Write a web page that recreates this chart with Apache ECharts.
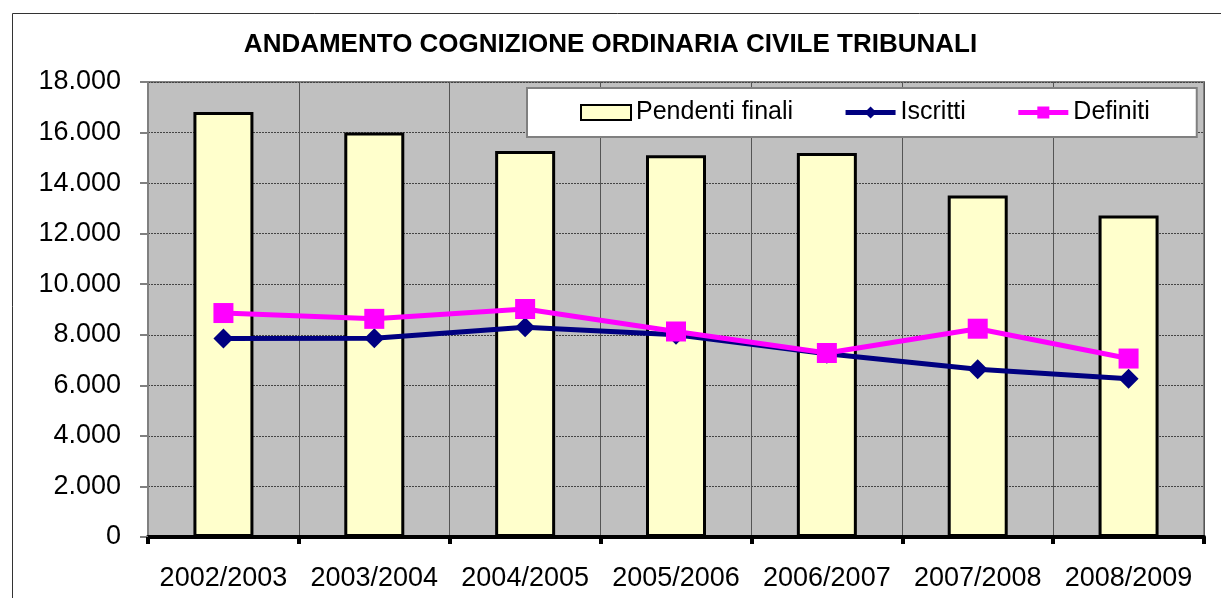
<!DOCTYPE html>
<html>
<head>
<meta charset="utf-8">
<script src="https://cdn.jsdelivr.net/npm/echarts@6/dist/echarts.min.js"></script>
<style>
  html, body { margin: 0; padding: 0; background: #fff; }
  #chart { width: 1221px; height: 598px; }
</style>
</head>
<body>
<div id="chart"></div>
<script>
var anni = ['2002/2003', '2003/2004', '2004/2005', '2005/2006', '2006/2007', '2007/2008', '2008/2009'];
var pendentiFinali = [16810, 16000, 15270, 15100, 15190, 13510, 12720];
var iscritti = [7850, 7860, 8300, 8000, 7250, 6640, 6260];
var definiti = [8860, 8630, 9020, 8130, 7280, 8240, 7060];
var yTicks = { min: 0, max: 18000, step: 2000 };

var myChart = echarts.init(document.getElementById('chart'));
var font = '"Liberation Sans", Arial, sans-serif';

var option = {
    backgroundColor: '#fff',
    animation: false,
    textStyle: { fontFamily: font },
    title: {
        text: 'ANDAMENTO COGNIZIONE ORDINARIA CIVILE TRIBUNALI',
        left: 'center',
        top: 27,
        textStyle: { fontSize: 26, fontWeight: 'bold', color: '#000', fontFamily: font }
    },
    graphic: [{
        type: 'rect',
        left: 10, top: 11,
        shape: { width: 1260, height: 640 },
        style: { fill: 'none', stroke: '#333', lineWidth: 1 },
        silent: true
    }],
    legend: {
        left: 527,
        top: 88,
        padding: [12, 47, 12, 53],
        itemGap: 50,
        itemWidth: 50,
        itemHeight: 15,
        backgroundColor: '#fff',
        borderColor: '#808080',
        borderWidth: 2,
        textStyle: { fontSize: 25, color: '#000', fontFamily: font },
        data: [
            { name: 'Pendenti finali', icon: 'rect' },
            { name: 'Iscritti', lineStyle: { width: 5 } },
            { name: 'Definiti', lineStyle: { width: 5 } }
        ]
    },
    grid: {
        left: 148,
        right: 17,
        top: 82,
        bottom: 61,
        show: true,
        backgroundColor: '#C0C0C0',
        borderColor: '#808080',
        borderWidth: 2
    },
    xAxis: {
        type: 'category',
        data: anni,
        boundaryGap: true,
        axisLine: { lineStyle: { color: '#000', width: 4 } },
        axisTick: { show: true, interval: 0, length: 7, lineStyle: { color: '#000', width: 4 } },
        axisLabel: { interval: 0, fontSize: 27, color: '#000', margin: 28, fontFamily: font },
        splitLine: { show: true, interval: 0, lineStyle: { color: '#555', width: 1 } }
    },
    yAxis: {
        type: 'value',
        min: yTicks.min,
        max: yTicks.max,
        interval: yTicks.step,
        axisLine: { show: true, lineStyle: { color: '#808080', width: 2 } },
        axisTick: { show: true, length: 8, lineStyle: { color: '#808080', width: 2 } },
        axisLabel: {
            fontSize: 27, color: '#000', margin: 27, fontFamily: font,
            formatter: function (v) {
                return String(v).replace(/\B(?=(\d{3})+(?!\d))/g, '.');
            }
        },
        splitLine: { show: true, lineStyle: { color: '#444', width: 1, type: [2, 1] } }
    },
    series: [
        {
            name: 'Pendenti finali',
            type: 'bar',
            barWidth: 60,
            data: pendentiFinali,
            itemStyle: { color: '#FFFFCC', borderColor: '#000', borderWidth: 3 }
        },
        {
            name: 'Iscritti',
            type: 'line',
            data: iscritti,
            symbol: 'diamond',
            symbolSize: 20,
            lineStyle: { color: '#000080', width: 5 },
            itemStyle: { color: '#000080' }
        },
        {
            name: 'Definiti',
            type: 'line',
            data: definiti,
            symbol: 'rect',
            symbolSize: 20,
            lineStyle: { color: '#FF00FF', width: 5 },
            itemStyle: { color: '#FF00FF' }
        }
    ]
};

myChart.setOption(option);
</script>
</body>
</html>
